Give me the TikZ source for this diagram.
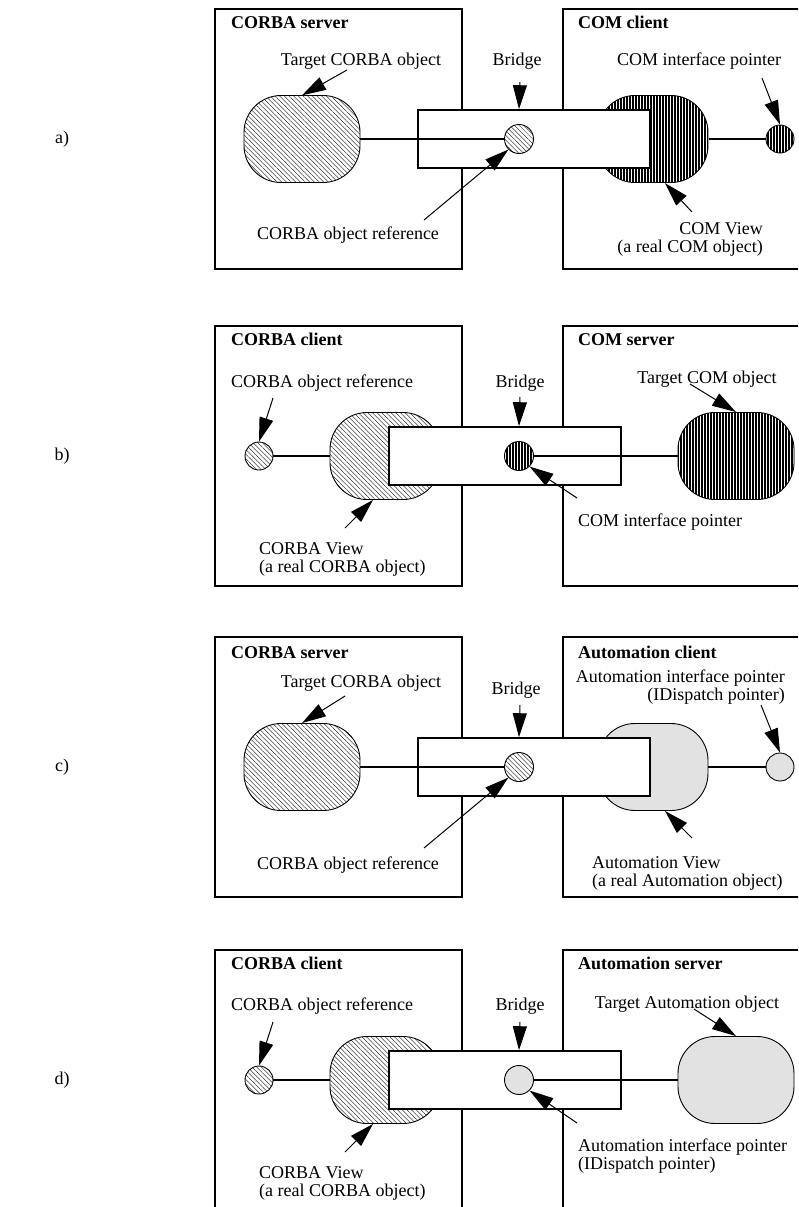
\documentclass[tikz,border=0pt]{standalone}
\usepackage{fontspec}
\setmainfont{Liberation Serif}
\usetikzlibrary{arrows.meta,patterns.meta}
\definecolor{autogray}{RGB}{226,226,226}

\begin{document}
\begin{tikzpicture}[x=1pt,y=1pt,
  every node/.style={font=\fontsize{18}{18}\selectfont, inner sep=0pt},
  boxtitle/.style={font=\fontsize{18}{18}\selectfont\bfseries, anchor=base west},
  lbl/.style={anchor=base},
  note/.style={font=\fontsize{18}{18}\selectfont},
  panel/.style={draw, line width=1.6pt},
  bridgebox/.style={draw, line width=1.6pt, fill=white,
                    minimum width=232pt, minimum height=58pt},
  objbox/.style={rounded corners=37pt, minimum width=116pt, minimum height=87pt},
  viewbox/.style={objbox, minimum width=110pt},
  corba/.style={draw, line width=0.9pt,
                pattern={Lines[angle=-45,distance=3.3pt,line width=0.35pt]}},
  com/.style={draw, line width=0.9pt,
              pattern={Lines[angle=90,distance=3pt,line width=1.2pt]}},
  autofill/.style={draw, line width=0.9pt, fill=autogray},
  ptrdot/.style={circle, minimum size=29pt},
  wire/.style={line width=1.6pt},
  ptr/.style={-{Triangle[length=24pt,width=14pt]}, line width=1pt}
]
  \clip (0,0) rectangle (798,-1207);
  \fill[white] (0,0) rectangle (798,-1207);

  % a) CORBA server, COM client
  \begin{scope}[yshift=-139pt]
    \node (labA) at (62,0) {a)};
    \draw[panel] (215,130) rectangle (462,-130);
    \draw[panel] (563,130) rectangle (840,-130);
    \node[boxtitle] (srvA) at (231,110) {CORBA server};
    \node[boxtitle] (cliA) at (578,110) {COM client};

    \node[objbox, corba] (tgtA) at (302,0) {};
    \node[viewbox, com] (viewA) at (653,0) {};
    \node[bridgebox] (brA) at (534,0) {};
    \node[ptrdot, corba] (refA) at (519,0) {};
    \node[ptrdot, com, minimum size=28pt] (ifA) at (780,0) {};
    \draw[wire] (tgtA.east) -- (refA.west);
    \draw[wire] (viewA.east) -- (ifA.west);

    \node[lbl] (tgtLblA) at (361,73) {Target CORBA object};
    \node[lbl] (brLblA) at (517,73) {Bridge};
    \node[lbl] (ifLblA) at (699,73) {COM interface pointer};
    \node[lbl] (refLblA) at (348,-100) {CORBA object reference};
    \node[note, align=right, anchor=north east] (viewLblA) at (763,-83)
      {COM View\\(a real COM object)};

    \coordinate (t1A) at (347,69);
    \coordinate (t2A) at (520,57);
    \coordinate (t3A) at (762,61);
    \coordinate (t4A) at (424,-81);
    \coordinate (t5A) at (692,-73);
    \draw[ptr] (t1A) -- (tgtA.north);
    \draw[ptr] (t2A) -- (brA.north -| refA);
    \draw[ptr] (t3A) -- (ifA.north);
    \draw[ptr] (t4A) -- (refA.south west);
    \draw[ptr] (t5A) -- ([xshift=12pt]viewA.south);
  \end{scope}

  % b) CORBA client, COM server
  \begin{scope}[yshift=-456pt]
    \node (labB) at (62,0) {b)};
    \draw[panel] (215,130) rectangle (462,-130);
    \draw[panel] (563,130) rectangle (840,-130);
    \node[boxtitle] (cliB) at (231,111) {CORBA client};
    \node[boxtitle] (srvB) at (578,111) {COM server};

    \node[ptrdot, corba, minimum size=28pt] (objB) at (259,0) {};
    \node[viewbox, corba] (viewB) at (385,0) {};
    \node[bridgebox] (brB) at (505,0) {};
    \node[ptrdot, com] (ifB) at (519,0) {};
    \node[objbox, com] (tgtB) at (736,0) {};
    \draw[wire] (objB.east) -- (viewB.west);
    \draw[wire] (ifB.east) -- (tgtB.west);

    \node[lbl, anchor=base west] (refLblB) at (231,69) {CORBA object reference};
    \node[lbl] (brLblB) at (520,69) {Bridge};
    \node[lbl] (tgtLblB) at (707,73) {Target COM object};
    \node[lbl, anchor=base west] (ifLblB) at (578,-70) {COM interface pointer};
    \node[note, align=left, anchor=north west] (viewLblB) at (259,-86)
      {CORBA View\\(a real CORBA object)};

    \coordinate (t1B) at (273,58);
    \coordinate (t2B) at (520,59);
    \coordinate (t3B) at (690,72);
    \coordinate (t4B) at (577,-42);
    \coordinate (t5B) at (345,-72);
    \draw[ptr] (t1B) -- (objB.north);
    \draw[ptr] (t2B) -- (brB.north -| ifB);
    \draw[ptr] (t3B) -- (tgtB.north);
    \draw[ptr] (t4B) -- (ifB.south east);
    \draw[ptr] (t5B) -- ([xshift=-12pt]viewB.south);
  \end{scope}

  % c) CORBA server, Automation client
  \begin{scope}[yshift=-767pt]
    \node (labC) at (62,0) {c)};
    \draw[panel] (215,130) rectangle (462,-130);
    \draw[panel] (563,130) rectangle (840,-130);
    \node[boxtitle] (srvC) at (231,109) {CORBA server};
    \node[boxtitle] (cliC) at (578,109) {Automation client};

    \node[objbox, corba] (tgtC) at (302,0) {};
    \node[viewbox, autofill] (viewC) at (653,0) {};
    \node[bridgebox] (brC) at (534,0) {};
    \node[ptrdot, corba] (refC) at (519,0) {};
    \node[ptrdot, autofill, minimum size=28pt] (ifC) at (780,0) {};
    \draw[wire] (tgtC.east) -- (refC.west);
    \draw[wire] (viewC.east) -- (ifC.west);

    \node[lbl] (tgtLblC) at (361,80) {Target CORBA object};
    \node[lbl] (brLblC) at (516,73) {Bridge};
    \node[note, align=right, anchor=north east] (ifLblC) at (785,97)
      {Automation interface pointer\\(IDispatch pointer)};
    \node[lbl] (refLblC) at (348,-102) {CORBA object reference};
    \node[note, align=left, anchor=north west] (viewLblC) at (592,-89)
      {Automation View\\(a real Automation object)};

    \coordinate (t1C) at (345,71);
    \coordinate (t2C) at (520,62);
    \coordinate (t3C) at (761,62);
    \coordinate (t4C) at (424,-81);
    \coordinate (t5C) at (692,-71);
    \draw[ptr] (t1C) -- (tgtC.north);
    \draw[ptr] (t2C) -- (brC.north -| refC);
    \draw[ptr] (t3C) -- (ifC.north);
    \draw[ptr] (t4C) -- (refC.south west);
    \draw[ptr] (t5C) -- ([xshift=12pt]viewC.south);
  \end{scope}

  % d) CORBA client, Automation server
  \begin{scope}[yshift=-1080pt]
    \node (labD) at (62,0) {d)};
    \draw[panel] (215,130) rectangle (462,-140);
    \draw[panel] (563,130) rectangle (840,-140);
    \node[boxtitle] (cliD) at (231,111) {CORBA client};
    \node[boxtitle] (srvD) at (578,111) {Automation server};

    \node[ptrdot, corba, minimum size=28pt] (objD) at (259,0) {};
    \node[viewbox, corba] (viewD) at (385,0) {};
    \node[bridgebox] (brD) at (505,0) {};
    \node[ptrdot, autofill] (ifD) at (519,0) {};
    \node[objbox, autofill] (tgtD) at (736,0) {};
    \draw[wire] (objD.east) -- (viewD.west);
    \draw[wire] (ifD.east) -- (tgtD.west);

    \node[lbl, anchor=base west] (refLblD) at (231,70) {CORBA object reference};
    \node[lbl] (brLblD) at (520,70) {Bridge};
    \node[lbl] (tgtLblD) at (687,72) {Target Automation object};
    \node[note, align=left, anchor=north west] (ifLblD) at (578,-59)
      {Automation interface pointer\\(IDispatch pointer)};
    \node[note, align=left, anchor=north west] (viewLblD) at (259,-86)
      {CORBA View\\(a real CORBA object)};

    \coordinate (t1D) at (273,58);
    \coordinate (t2D) at (520,58);
    \coordinate (t3D) at (694,71);
    \coordinate (t4D) at (577,-43);
    \coordinate (t5D) at (345,-72);
    \draw[ptr] (t1D) -- (objD.north);
    \draw[ptr] (t2D) -- (brD.north -| ifD);
    \draw[ptr] (t3D) -- (tgtD.north);
    \draw[ptr] (t4D) -- (ifD.south east);
    \draw[ptr] (t5D) -- ([xshift=-12pt]viewD.south);
  \end{scope}
\end{tikzpicture}
\end{document}
